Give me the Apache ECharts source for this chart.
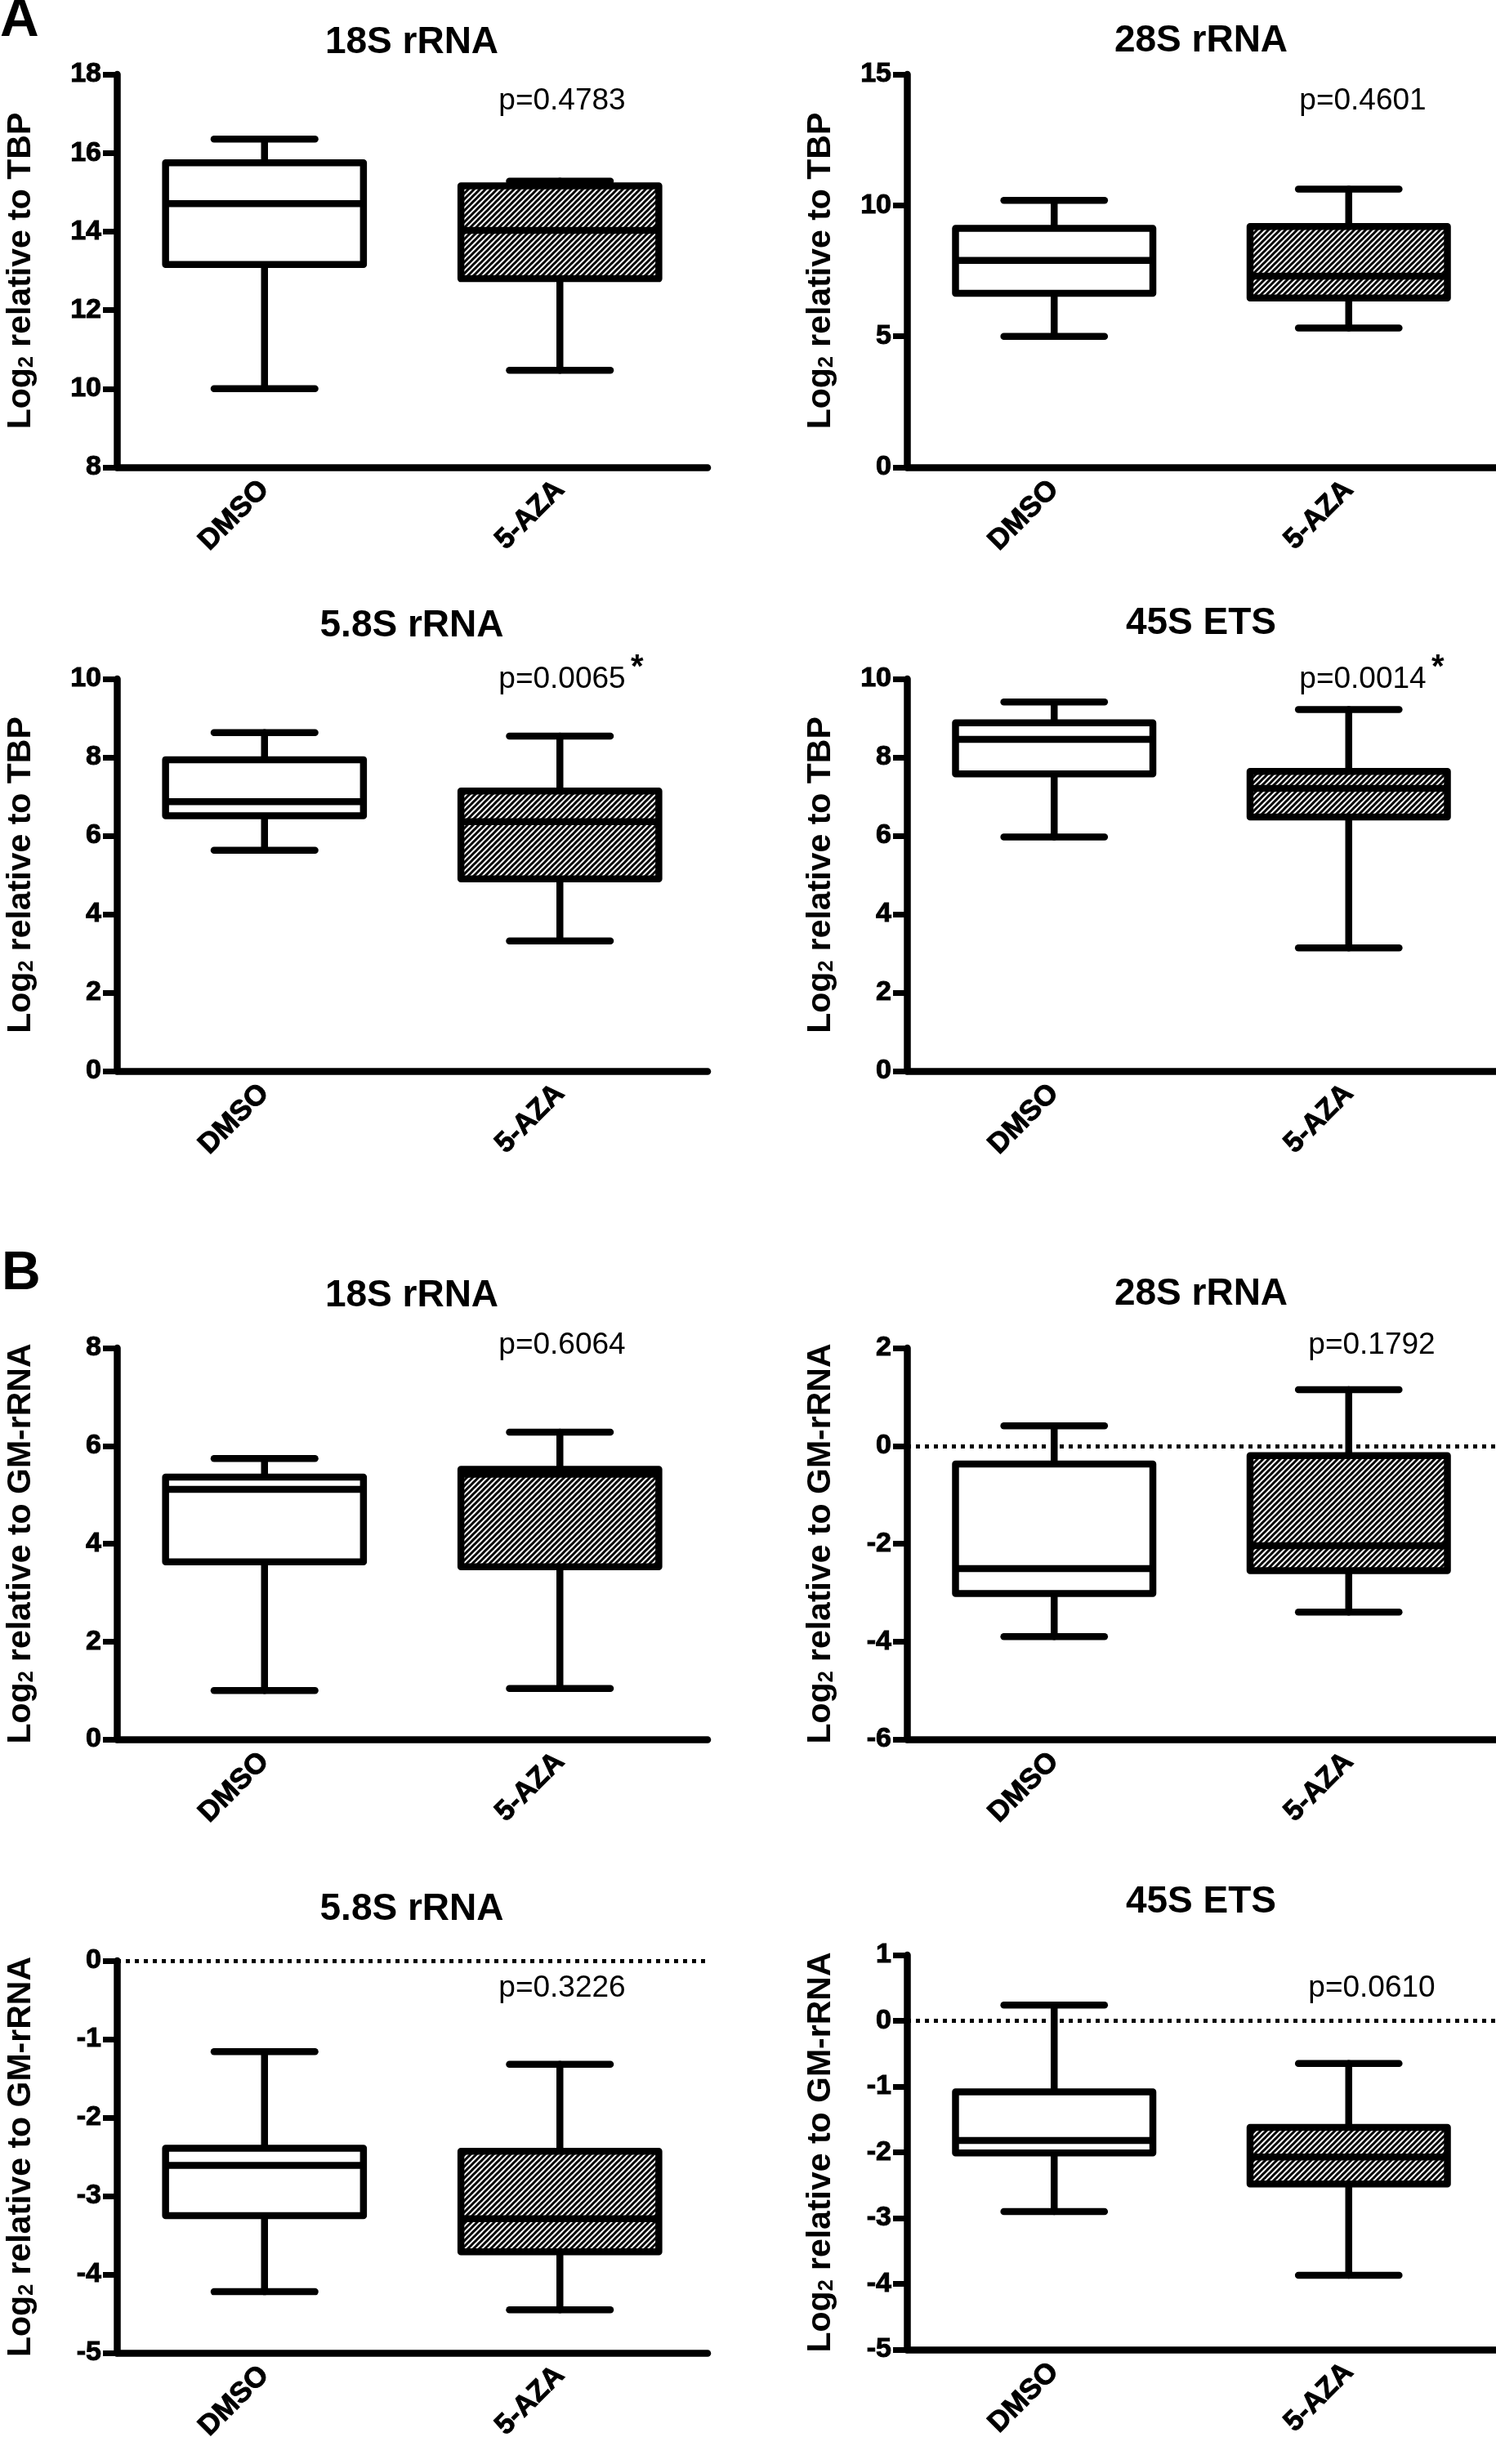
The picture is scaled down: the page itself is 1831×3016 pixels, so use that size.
<!DOCTYPE html>
<html><head><meta charset="utf-8">
<script src="https://cdn.jsdelivr.net/npm/echarts@6/dist/echarts.min.js"></script>
<style>html,body{margin:0;padding:0;background:#fff}#c{width:1831px;height:3016px}</style>
</head><body><div id="c"></div>
<script>
// ---------- DATA ----------
const categories = ['DMSO', '5-AZA'];
const panelTitles = ['18S rRNA', '28S rRNA', '5.8S rRNA', '45S ETS', '18S rRNA', '28S rRNA', '5.8S rRNA', '45S ETS'];
const pValues = ['p=0.4783', 'p=0.4601', 'p=0.0065', 'p=0.0014', 'p=0.6064', 'p=0.1792', 'p=0.3226', 'p=0.0610'];
const significant = [false, false, true, true, false, false, false, false];
const yMins = [8, 0, 0, 0, 0, -6, -5, -5];
const yMaxs = [18, 15, 10, 10, 8, 2, 0, 1];
const yIntervals = [2, 5, 2, 2, 2, 2, 1, 1];
const yNames = ['TBP', 'TBP', 'TBP', 'TBP', 'GM-rRNA', 'GM-rRNA', 'GM-rRNA', 'GM-rRNA'];
const zeroLine = [false, false, false, false, false, true, true, true];
const panelLetters = ['A', 'B'];
// box values: [min, Q1, median, Q3, max]
const dmsoBoxes = [
  [10.0, 13.16, 14.71, 15.75, 16.35],
  [5.0, 6.64, 7.9, 9.12, 10.19],
  [5.63, 6.51, 6.87, 7.94, 8.63],
  [5.97, 7.58, 8.46, 8.88, 9.41],
  [1.0, 3.63, 5.11, 5.36, 5.74],
  [-3.9, -3.02, -2.51, -0.37, 0.41],
  [-4.22, -3.25, -2.61, -2.39, -1.16],
  [-2.9, -2.01, -1.82, -1.08, 0.24]
];
const azaBoxes = [
  [10.47, 12.8, 14.03, 15.16, 15.28],
  [5.32, 6.46, 7.3, 9.19, 10.62],
  [3.32, 4.9, 6.36, 7.14, 8.54],
  [3.14, 6.48, 7.21, 7.64, 9.22],
  [1.04, 3.53, 5.42, 5.52, 6.28],
  [-3.4, -2.55, -2.04, -0.2, 1.15],
  [-4.45, -3.71, -3.29, -2.43, -1.32],
  [-3.87, -2.48, -2.07, -1.62, -0.65]
];

// ---------- LAYOUT / STYLE ----------
const FONT = "'Liberation Sans', Arial, Helvetica, sans-serif";
const colLeft = [143, 1110];
const colWidth = [723, 721];
const gridTops = [91, 91, 831, 831, 1650, 1650, 2400, 2393];
const gridHeights = [481, 481, 480, 480, 479, 479, 480, 483];
const nameGaps = [97, 85, 97, 85, 97, 85, 97, 85];
const titlePos = [[504, 52], [1470, 50], [504, 766], [1470, 763], [504, 1586], [1470, 1584], [504, 2337], [1470, 2328]];
const pPos = [[688, 124], [1668, 124], [688, 832], [1668, 832], [688, 1647], [1679, 1647], [688, 2434], [1679, 2434]];
const letterPos = [[0, 26], [2, 1560]];
const LW = 8.5;

// hatch pattern
const hc = document.createElement('canvas');
const HS = 7;
hc.width = HS; hc.height = HS;
const hx = hc.getContext('2d');
hx.fillStyle = '#fff'; hx.fillRect(0, 0, HS, HS);
hx.strokeStyle = '#000'; hx.lineWidth = 3;
for (let k = -1; k <= 2; k++) {
  hx.beginPath();
  hx.moveTo(-2, k * HS + 2);
  hx.lineTo(HS + 2, k * HS - HS - 2);
  hx.stroke();
}
const hatchFill = { image: hc, repeat: 'repeat' };

function renderBox(params, api) {
  const cat = api.value(0);
  const v = [api.value(1), api.value(2), api.value(3), api.value(4), api.value(5)];
  const x = api.coord([cat, v[0]])[0];
  const band = api.size([1, 0])[0];
  const bw = band * 0.67, cw = bw * 0.51;
  const y = v.map(val => api.coord([cat, val])[1]);
  const ls = { stroke: '#000', lineWidth: LW, lineCap: 'round' };
  return {
    type: 'group',
    children: [
      { type: 'line', shape: { x1: x, y1: y[4], x2: x, y2: y[3] }, style: ls },
      { type: 'line', shape: { x1: x, y1: y[1], x2: x, y2: y[0] }, style: ls },
      { type: 'line', shape: { x1: x - cw / 2, y1: y[4], x2: x + cw / 2, y2: y[4] }, style: ls },
      { type: 'line', shape: { x1: x - cw / 2, y1: y[0], x2: x + cw / 2, y2: y[0] }, style: ls },
      { type: 'rect', shape: { x: x - bw / 2, y: y[3], width: bw, height: y[1] - y[3] },
        style: { fill: cat === 1 ? hatchFill : '#fff', stroke: '#000', lineWidth: LW, lineJoin: 'round' } },
      { type: 'line', shape: { x1: x - bw / 2, y1: y[2], x2: x + bw / 2, y2: y[2] }, style: { stroke: '#000', lineWidth: LW } }
    ]
  };
}

const grids = [], xAxes = [], yAxes = [], series = [], graphics = [];
for (let i = 0; i < 8; i++) {
  const col = i % 2;
  grids.push({ left: colLeft[col], top: gridTops[i], width: colWidth[col], height: gridHeights[i] });
  xAxes.push({
    gridIndex: i, type: 'category', data: categories, boundaryGap: true,
    axisLine: { onZero: false, lineStyle: { color: '#000', width: LW } },
    axisTick: { alignWithLabel: true, length: 18, lineStyle: { color: '#000', width: 7 } },
    axisLabel: { rotate: 45, margin: 22, fontSize: 35, fontWeight: 700, color: '#000', fontFamily: FONT, interval: 0,
      textBorderColor: '#000', textBorderWidth: 1 },
    splitLine: { show: false }
  });
  yAxes.push({
    gridIndex: i, type: 'value', min: yMins[i], max: yMaxs[i], interval: yIntervals[i],
    axisLine: { show: true, onZero: false, lineStyle: { color: '#000', width: LW } },
    axisTick: { show: true, length: 17, lineStyle: { color: '#000', width: 7 } },
    axisLabel: { margin: 19, fontSize: 34, fontWeight: 700, color: '#000', fontFamily: FONT,
      textBorderColor: '#000', textBorderWidth: 1 },
    splitLine: { show: false },
    name: 'Log{s|2} relative to ' + yNames[i],
    nameLocation: 'middle', nameRotate: 90, nameGap: nameGaps[i],
    nameTextStyle: { fontSize: 41, fontWeight: 700, color: '#000', fontFamily: FONT,
      rich: { s: { fontSize: 25, fontWeight: 700, color: '#000', fontFamily: FONT, verticalAlign: 'bottom' } } }
  });
  const data = [[categories.indexOf('DMSO')].concat(dmsoBoxes[i]), [categories.indexOf('5-AZA')].concat(azaBoxes[i])];
  const s = {
    type: 'custom', xAxisIndex: i, yAxisIndex: i, renderItem: renderBox, data: data,
    encode: { x: 0, y: [1, 2, 3, 4, 5] }, silent: true
  };
  if (zeroLine[i]) {
    s.markLine = { silent: true, symbol: 'none', label: { show: false },
      lineStyle: { type: [5, 6], width: 5, color: '#000' }, data: [{ yAxis: 0 }], animation: false };
  }
  series.push(s);
  graphics.push({ type: 'text', x: titlePos[i][0], y: titlePos[i][1],
    style: { text: panelTitles[i], textAlign: 'center', textVerticalAlign: 'middle', font: 'bold 46px ' + FONT, fill: '#000' } });
  graphics.push({ type: 'text', x: pPos[i][0], y: pPos[i][1],
    style: { text: pValues[i], textAlign: 'center', textVerticalAlign: 'middle', font: '37px ' + FONT, fill: '#000' } });
  if (significant[i]) {
    graphics.push({ type: 'text', x: pPos[i][0] + 84, y: pPos[i][1] - 14,
      style: { text: '*', textAlign: 'left', textVerticalAlign: 'middle', font: 'bold 40px ' + FONT, fill: '#000' } });
  }
}
panelLetters.forEach((L, k) => {
  graphics.push({ type: 'text', x: letterPos[k][0], y: letterPos[k][1],
    style: { text: L, textAlign: 'left', textVerticalAlign: 'middle', font: 'bold 66px ' + FONT, fill: '#000' } });
});

const chart = echarts.init(document.getElementById('c'));
chart.setOption({
  backgroundColor: '#fff', animation: false,
  grid: grids, xAxis: xAxes, yAxis: yAxes, series: series, graphic: graphics
});
</script></body></html>
